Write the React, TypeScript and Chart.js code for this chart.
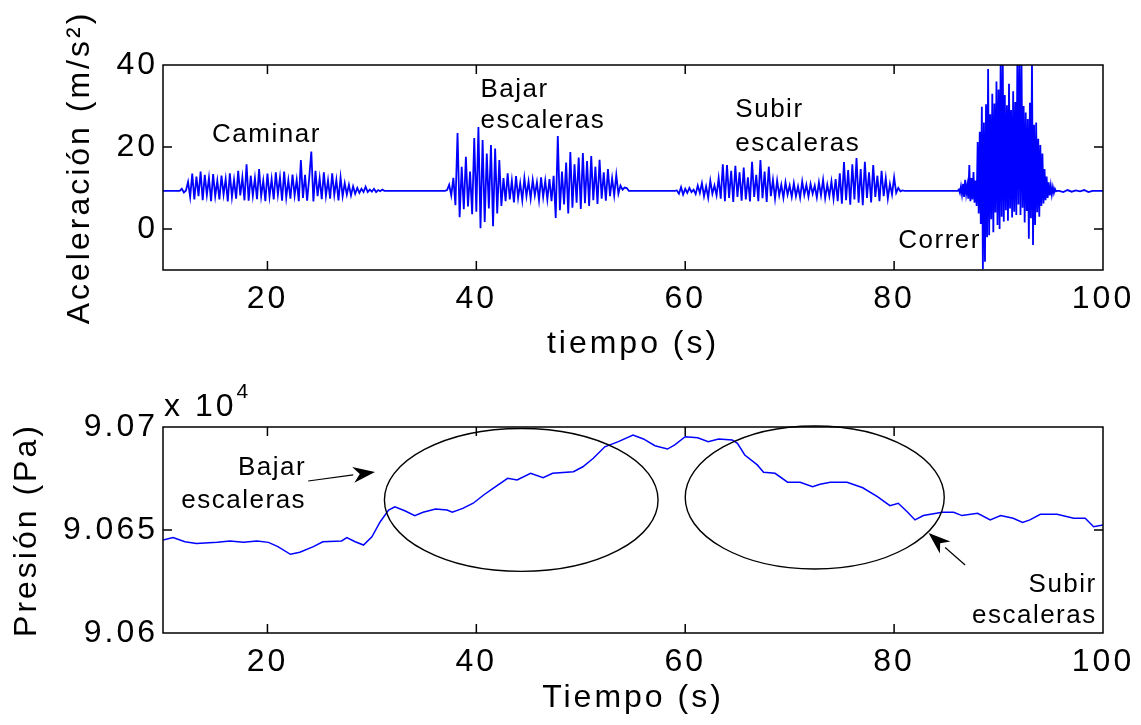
import React, { useEffect, useRef } from "react";
import { Chart, registerables } from "chart.js";

Chart.register(...registerables);

// ---------------- DATA ----------------
const restLevel = 9.3; // m/s^2, resting acceleration level
const timeRange = [10, 100];

const caminarStart = 11.6;
const caminarStep = 0.2;
const caminarValues = [
  9.3, 9.8, 8.9, 9.4, 11.5, 7.8, 13.5, 7.2, 12.8, 8.0,
  14.0, 7.0, 13.2, 8.3, 12.5, 6.8, 13.4, 8.0, 11.8, 7.2,
  13.0, 8.4, 12.2, 6.7, 13.6, 7.8, 12.0, 7.4, 14.2, 8.2,
  12.6, 7.0, 15.8, 6.9, 13.0, 8.1, 12.4, 7.3, 14.6, 8.0,
  11.8, 6.8, 13.5, 7.9, 12.2, 7.2, 13.8, 8.4, 12.6, 6.9,
  14.0, 7.7, 11.9, 7.4, 13.3, 8.2, 12.0, 6.8, 16.8, 7.6,
  13.2, 6.9, 12.5, 18.9, 6.7, 14.2, 8.0, 12.4, 7.3, 13.8,
  8.1, 11.9, 7.4, 13.6, 8.3, 12.0, 7.0, 12.6, 8.0, 11.2,
  8.4, 10.8, 8.2, 10.4, 8.6, 10.0, 8.8, 9.8, 9.0, 10.3,
  9.0, 9.6, 9.1, 9.8, 9.0, 9.5, 9.2, 9.6, 9.3, 9.3,
];

const bajarStart = 37.0;
const bajarStep = 0.2;
const bajarValues = [
  9.3, 9.5, 10.8, 8.2, 12.5, 5.8, 23.4, 2.9, 15.2, 4.8,
  17.6, 5.5, 14.0, 3.6, 22.2, 4.2, 24.9, 0.2, 21.7, 1.7,
  18.4, 5.0, 20.5, 0.7, 19.6, 3.8, 16.8, 5.6, 12.4, 6.8,
  13.6, 7.2, 11.8, 6.5, 12.9, 7.6, 11.2, 7.0, 12.4, 8.0,
  11.6, 7.4, 12.0, 8.2, 11.4, 7.0, 12.6, 7.8, 11.8, 7.2,
  12.2, 6.8, 13.0, 2.7, 22.7, 4.6, 14.0, 6.0, 16.2, 3.8,
  18.8, 5.2, 15.8, 6.4, 17.4, 4.9, 18.5, 6.3, 16.6, 5.6,
  17.8, 7.0, 15.2, 6.1, 16.9, 7.4, 13.8, 6.9, 14.6, 8.0,
  12.4, 8.2, 13.2, 8.6, 10.6, 9.6, 10.1, 10.0, 9.3, 9.3,
  9.3,
];

const subirStart = 59.0;
const subirStep = 0.2;
const subirValues = [
  9.3, 9.4, 8.6, 10.2, 8.4, 9.8, 8.8, 10.0, 9.0, 9.6,
  8.5, 10.6, 8.8, 11.2, 8.0, 10.4, 7.6, 11.8, 8.6, 10.6,
  8.2, 12.4, 7.4, 15.8, 6.8, 15.6, 7.6, 14.2, 6.6, 15.4,
  7.8, 13.8, 6.9, 15.0, 7.2, 12.6, 6.7, 16.4, 7.8, 13.2,
  6.8, 16.8, 7.5, 14.0, 6.6, 15.2, 8.0, 12.0, 7.4, 11.8,
  8.2, 10.8, 7.6, 11.4, 8.4, 10.6, 7.8, 11.2, 8.0, 10.4,
  7.6, 11.6, 8.3, 10.8, 7.9, 11.0, 8.6, 10.6, 7.7, 11.4,
  8.2, 12.0, 7.5, 10.8, 8.0, 11.6, 7.4, 12.2, 6.8, 13.6,
  6.2, 16.3, 7.0, 14.4, 5.9, 15.8, 7.2, 17.3, 6.4, 14.6,
  5.8, 16.4, 7.6, 13.8, 6.5, 15.6, 7.8, 13.0, 6.8, 14.2,
  8.0, 12.4, 7.4, 11.0, 8.4, 12.6, 8.8, 10.0, 9.2, 9.4,
  9.3,
];

const correrStart = 86.0;
const correrStep = 0.1;
const correrValues = [
  9.3, 9.3, 9.6, 8.8, 10.4, 8.4, 11.0, 7.8, 12.0, 8.6,
  10.6, 7.4, 15.6, 6.8, 12.4, 7.2, 13.9, 6.4, 11.8, 5.6,
  21.2, 3.8, 23.7, 1.2, 29.8, -9.8, 26.0, -8.0, 30.4, -2.0,
  39.0, -1.5, 28.0, 2.4, 33.0, -0.8, 30.6, 4.0, 36.0, 1.0,
  34.0, 0.0, 41.0, 3.0, 42.0, 1.8, 32.7, 4.6, 30.2, 2.0,
  35.4, 5.0, 29.0, 2.8, 33.6, 4.2, 31.0, 3.4, 41.0, 6.0,
  42.0, 3.4, 40.5, 5.2, 30.0, 1.6, 28.4, 4.4, 26.8, -2.4,
  30.8, 2.6, 41.0, -3.9, 25.4, 1.0, 26.0, 4.1, 22.0, 3.0,
  20.5, 5.6, 18.4, 6.2, 14.6, 7.0, 12.8, 7.6, 11.4, 8.2,
  10.6, 8.4, 10.2, 8.8, 9.8, 9.2, 9.3,
];

const colaStart = 95.8;
const colaStep = 0.4;
const colaValues = [9.3, 9.0, 9.5, 9.1, 9.4, 9.2, 9.5, 9.0, 9.3, 9.3, 9.3];

const accelTicks = [0, 20, 40];
const timeTicks = [20, 40, 60, 80, 100];

const pressureTime = [
  10.0, 10.96, 12.1, 13.2, 15.2, 16.4, 17.7, 19.0, 20.1, 21.0,
  22.2, 23.1, 24.4, 25.3, 27.1, 27.6, 28.4, 29.2, 30.0, 30.8,
  31.6, 32.2, 33.2, 34.1, 34.9, 36.1, 37.2, 37.7, 38.7, 39.7,
  40.7, 41.6, 43.0, 43.9, 45.2, 46.4, 47.3, 49.3, 50.2, 51.2,
  52.3, 53.6, 55.0, 56.0, 57.1, 58.3, 59.0, 60.0, 61.2, 62.2,
  63.2, 64.5, 65.0, 65.7, 66.9, 67.5, 68.6, 69.8, 71.0, 72.2,
  72.9, 73.9, 75.5, 77.0, 78.4, 79.6, 80.4, 81.3, 82.0, 82.8,
  84.6, 85.7, 86.5, 88.0, 89.2, 90.2, 91.4, 92.3, 93.0, 94.0,
  95.6, 97.2, 98.3, 99.1, 100.0,
];
const pressurePa = [
  90645.1, 90646.3, 90644.3, 90643.5, 90644.0, 90644.7, 90644.0, 90644.7, 90644.0, 90641.9,
  90638.2, 90639.2, 90641.9, 90644.3, 90644.7, 90646.3, 90644.3, 90642.7, 90646.7, 90654.0,
  90659.7, 90661.3, 90659.2, 90657.0, 90658.6, 90660.2, 90659.7, 90658.6, 90660.5, 90663.0,
  90667.0, 90670.2, 90675.1, 90674.3, 90677.5, 90675.4, 90677.5, 90678.3, 90680.7, 90684.8,
  90690.4, 90692.9, 90696.1, 90694.2, 90690.9, 90689.3, 90691.3, 90695.3, 90694.8, 90692.9,
  90694.2, 90693.7, 90692.1, 90686.4, 90681.6, 90678.0, 90677.5, 90673.2, 90673.2, 90671.0,
  90672.2, 90673.2, 90673.2, 90670.5, 90666.2, 90661.8, 90663.0, 90658.6, 90654.9, 90657.0,
  90658.6, 90658.6, 90657.0, 90658.1, 90654.9, 90657.0, 90655.7, 90653.7, 90654.9, 90657.6,
  90657.6, 90655.7, 90655.7, 90651.6, 90652.4,
];
const pressureTicks = [90600, 90650, 90700];
const pressureTickLabels = ["9.06", "9.065", "9.07"];
const pressureRange = [90600, 90700];
const accelRange = [-10, 40];

// ellipses (centre time, centre Pa, half-width s, half-height Pa)
const ellipseCenterT = [44.3, 72.4];
const ellipseCenterPa = [90664.6, 90665.8];
const ellipseHalfT = [13.1, 12.4];
const ellipseHalfPa = [34.7, 34.7];

// annotation texts, anchored in data units
const topLabels = [
  { text: "Caminar", t: 14.7, v: 21.2, align: "left" },
  { text: "Bajar", t: 40.4, v: 32.2, align: "left" },
  { text: "escaleras", t: 40.4, v: 24.6, align: "left" },
  { text: "Subir", t: 64.8, v: 27.3, align: "left" },
  { text: "escaleras", t: 64.8, v: 19.0, align: "left" },
  { text: "Correr", t: 80.4, v: -4.6, align: "left" },
];
const bottomLabels = [
  { text: "Bajar", t: 23.7, v: 90676.7, align: "right" },
  { text: "escaleras", t: 23.7, v: 90660.7, align: "right" },
  { text: "Subir", t: 99.4, v: 90619.9, align: "right" },
  { text: "escaleras", t: 99.4, v: 90604.9, align: "right" },
];
// arrows: [tailT, tailPa, tipT, tipPa]
const bottomArrows = [
  [23.9, 90673.8, 30.3, 90678.2],
  [86.8, 90633.0, 83.3, 90648.5],
];

// ---------------- HELPERS ----------------
const FONT = "'Liberation Sans', Arial, Helvetica, sans-serif";
const BLUE = "#0000ff";
const AXIS_FONT = 32;

function buildAccelPoints() {
  const pts: { x: number; y: number }[] = [];
  pts.push({ x: timeRange[0], y: restLevel });
  const segs: [number, number, number[]][] = [
    [caminarStart, caminarStep, caminarValues],
    [bajarStart, bajarStep, bajarValues],
    [subirStart, subirStep, subirValues],
    [correrStart, correrStep, correrValues],
    [colaStart, colaStep, colaValues],
  ];
  segs.forEach(([s, d, vals]) => {
    vals.forEach((v, i) => pts.push({ x: +(s + i * d).toFixed(3), y: v }));
  });
  pts.push({ x: timeRange[1], y: restLevel });
  return pts;
}

function framePlugin(spacing: string) {
  return {
    id: "frameTicks",
    beforeDraw(chart: any) {
      chart.ctx.letterSpacing = spacing;
    },
    afterDraw(chart: any) {
      const { ctx, chartArea: a, scales } = chart;
      ctx.save();
      ctx.letterSpacing = "0px";
      ctx.strokeStyle = "#000";
      ctx.lineWidth = 1.5;
      ctx.beginPath();
      ctx.rect(a.left, a.top, a.right - a.left, a.bottom - a.top);
      const L = 9;
      scales.x.ticks.forEach((t: any) => {
        const px = scales.x.getPixelForValue(t.value);
        ctx.moveTo(px, a.bottom);
        ctx.lineTo(px, a.bottom - L);
        ctx.moveTo(px, a.top);
        ctx.lineTo(px, a.top + L);
      });
      scales.y.ticks.forEach((t: any) => {
        const py = scales.y.getPixelForValue(t.value);
        ctx.moveTo(a.left, py);
        ctx.lineTo(a.left + L, py);
        ctx.moveTo(a.right, py);
        ctx.lineTo(a.right - L, py);
      });
      ctx.stroke();
      ctx.restore();
    },
  };
}

function drawLabels(chart: any, labels: any[]) {
  const { ctx, scales } = chart;
  ctx.save();
  ctx.letterSpacing = "1.5px";
  ctx.font = `26px ${FONT}`;
  ctx.fillStyle = "#000";
  ctx.textBaseline = "alphabetic";
  labels.forEach((l) => {
    const x = scales.x.getPixelForValue(l.t);
    const y = scales.y.getPixelForValue(l.v);
    ctx.textAlign = l.align;
    ctx.fillText(l.text, x, y);
  });
  ctx.restore();
}

function axisCommon(titleText: string, titlePad: number) {
  return {
    type: "linear",
    min: timeRange[0],
    max: timeRange[1],
    grid: { display: false, drawTicks: false },
    border: { display: false },
    afterBuildTicks: (s: any) => {
      s.ticks = timeTicks.map((v) => ({ value: v }));
    },
    ticks: {
      autoSkip: false,
      maxRotation: 0,
      padding: 10,
      color: "#000",
      font: { family: FONT, size: AXIS_FONT },
    },
    title: {
      display: true,
      text: titleText,
      color: "#000",
      font: { family: FONT, size: AXIS_FONT },
      padding: { top: 0, bottom: titlePad },
    },
  };
}

export default function App() {
  const topRef = useRef<HTMLCanvasElement>(null);
  const botRef = useRef<HTMLCanvasElement>(null);

  useEffect(() => {
    const topCanvas = topRef.current!;
    const botCanvas = botRef.current!;

    const topChart = new Chart(topCanvas, {
      type: "line",
      data: {
        datasets: [
          {
            data: buildAccelPoints(),
            borderColor: BLUE,
            borderWidth: 1.8,
            pointRadius: 0,
            tension: 0,
            fill: false,
          },
        ],
      },
      options: {
        responsive: false,
        animation: false,
        parsing: false as any,
        events: [],
        layout: { padding: { left: 0, right: 38, top: 65, bottom: 0 } },
        plugins: { legend: { display: false }, tooltip: { enabled: false } },
        scales: {
          x: {
            ...(axisCommon("tiempo (s)", 17) as any),
            afterFit: (s: any) => {
              s.height = 110;
            },
          },
          y: {
            type: "linear",
            min: accelRange[0],
            max: accelRange[1],
            grid: { display: false, drawTicks: false },
            border: { display: false },
            afterBuildTicks: (s: any) => {
              s.ticks = accelTicks.map((v) => ({ value: v }));
            },
            afterFit: (s: any) => {
              s.width = 163;
            },
            ticks: {
              padding: 5,
              color: "#000",
              font: { family: FONT, size: AXIS_FONT },
            },
            title: {
              display: true,
              text: "Aceleración (m/s²)",
              color: "#000",
              font: { family: FONT, size: AXIS_FONT },
              padding: { top: 61, bottom: 0 },
            },
          },
        },
      },
      plugins: [
        framePlugin("3px"),
        {
          id: "topLabels",
          afterDraw(chart: any) {
            drawLabels(chart, topLabels);
          },
        },
      ],
    } as any);

    const botChart = new Chart(botCanvas, {
      type: "line",
      data: {
        datasets: [
          {
            data: pressureTime.map((t, i) => ({ x: t, y: pressurePa[i] })),
            borderColor: BLUE,
            borderWidth: 1.5,
            pointRadius: 0,
            tension: 0,
            fill: false,
          },
        ],
      },
      options: {
        responsive: false,
        animation: false,
        parsing: false as any,
        events: [],
        layout: { padding: { left: 0, right: 38, top: 47, bottom: 0 } },
        plugins: { legend: { display: false }, tooltip: { enabled: false } },
        scales: {
          x: {
            ...(axisCommon("Tiempo (s)", 8) as any),
            afterFit: (s: any) => {
              s.height = 92;
            },
          },
          y: {
            type: "linear",
            min: pressureRange[0],
            max: pressureRange[1],
            grid: { display: false, drawTicks: false },
            border: { display: false },
            afterBuildTicks: (s: any) => {
              s.ticks = pressureTicks.map((v) => ({ value: v }));
            },
            afterFit: (s: any) => {
              s.width = 163;
            },
            ticks: {
              padding: 5,
              color: "#000",
              font: { family: FONT, size: AXIS_FONT },
              callback: (v: any) => {
                const i = pressureTicks.indexOf(Number(v));
                return i >= 0 ? pressureTickLabels[i] : "";
              },
            },
            title: {
              display: true,
              text: "Presión (Pa)",
              color: "#000",
              font: { family: FONT, size: AXIS_FONT },
              padding: { top: 8, bottom: 0 },
            },
          },
        },
      },
      plugins: [
        framePlugin("3px"),
        {
          id: "ellipsesArrows",
          afterDatasetsDraw(chart: any) {
            const { ctx, scales } = chart;
            const xs = scales.x;
            const ys = scales.y;
            ctx.save();
            ctx.strokeStyle = "#000";
            ctx.lineWidth = 1.4;
            ellipseCenterT.forEach((ct, i) => {
              const cx = xs.getPixelForValue(ct);
              const cy = ys.getPixelForValue(ellipseCenterPa[i]);
              const rx = Math.abs(xs.getPixelForValue(ct + ellipseHalfT[i]) - cx);
              const ry = Math.abs(ys.getPixelForValue(ellipseCenterPa[i] + ellipseHalfPa[i]) - cy);
              ctx.beginPath();
              ctx.ellipse(cx, cy, rx, ry, 0, 0, Math.PI * 2);
              ctx.stroke();
            });
            bottomArrows.forEach(([t0, p0, t1, p1]) => {
              const x0 = xs.getPixelForValue(t0);
              const y0 = ys.getPixelForValue(p0);
              const x1 = xs.getPixelForValue(t1);
              const y1 = ys.getPixelForValue(p1);
              const ang = Math.atan2(y1 - y0, x1 - x0);
              const hl = 22;
              const hw = 8;
              const bx = x1 - hl * Math.cos(ang);
              const by = y1 - hl * Math.sin(ang);
              ctx.lineWidth = 1.2;
              ctx.beginPath();
              ctx.moveTo(x0, y0);
              ctx.lineTo(bx, by);
              ctx.stroke();
              ctx.fillStyle = "#000";
              ctx.beginPath();
              ctx.moveTo(x1, y1);
              ctx.lineTo(bx + hw * Math.sin(ang), by - hw * Math.cos(ang));
              ctx.lineTo(x1 - hl * 0.7 * Math.cos(ang), y1 - hl * 0.7 * Math.sin(ang));
              ctx.lineTo(bx - hw * Math.sin(ang), by + hw * Math.cos(ang));
              ctx.closePath();
              ctx.fill();
            });
            ctx.restore();
          },
          afterDraw(chart: any) {
            drawLabels(chart, bottomLabels);
            const { ctx, chartArea } = chart;
            ctx.save();
            ctx.letterSpacing = "3px";
            ctx.fillStyle = "#000";
            ctx.textAlign = "left";
            ctx.textBaseline = "alphabetic";
            ctx.font = `${AXIS_FONT}px ${FONT}`;
            ctx.fillText("x 10", chartArea.left + 1, chartArea.top - 11);
            const w = ctx.measureText("x 10").width;
            ctx.font = `21px ${FONT}`;
            ctx.fillText("4", chartArea.left + 1 + w, chartArea.top - 29);
            ctx.restore();
          },
        },
      ],
    } as any);

    return () => {
      topChart.destroy();
      botChart.destroy();
    };
  }, []);

  return (
    <div
      style={{
        position: "fixed",
        left: 0,
        top: 0,
        width: 1141,
        height: 725,
        background: "#fff",
        overflow: "hidden",
      }}
    >
      <canvas
        ref={topRef}
        width={1141}
        height={380}
        style={{ position: "absolute", left: 0, top: 0, width: 1141, height: 380 }}
      />
      <canvas
        ref={botRef}
        width={1141}
        height={345}
        style={{ position: "absolute", left: 0, top: 380, width: 1141, height: 345 }}
      />
    </div>
  );
}
